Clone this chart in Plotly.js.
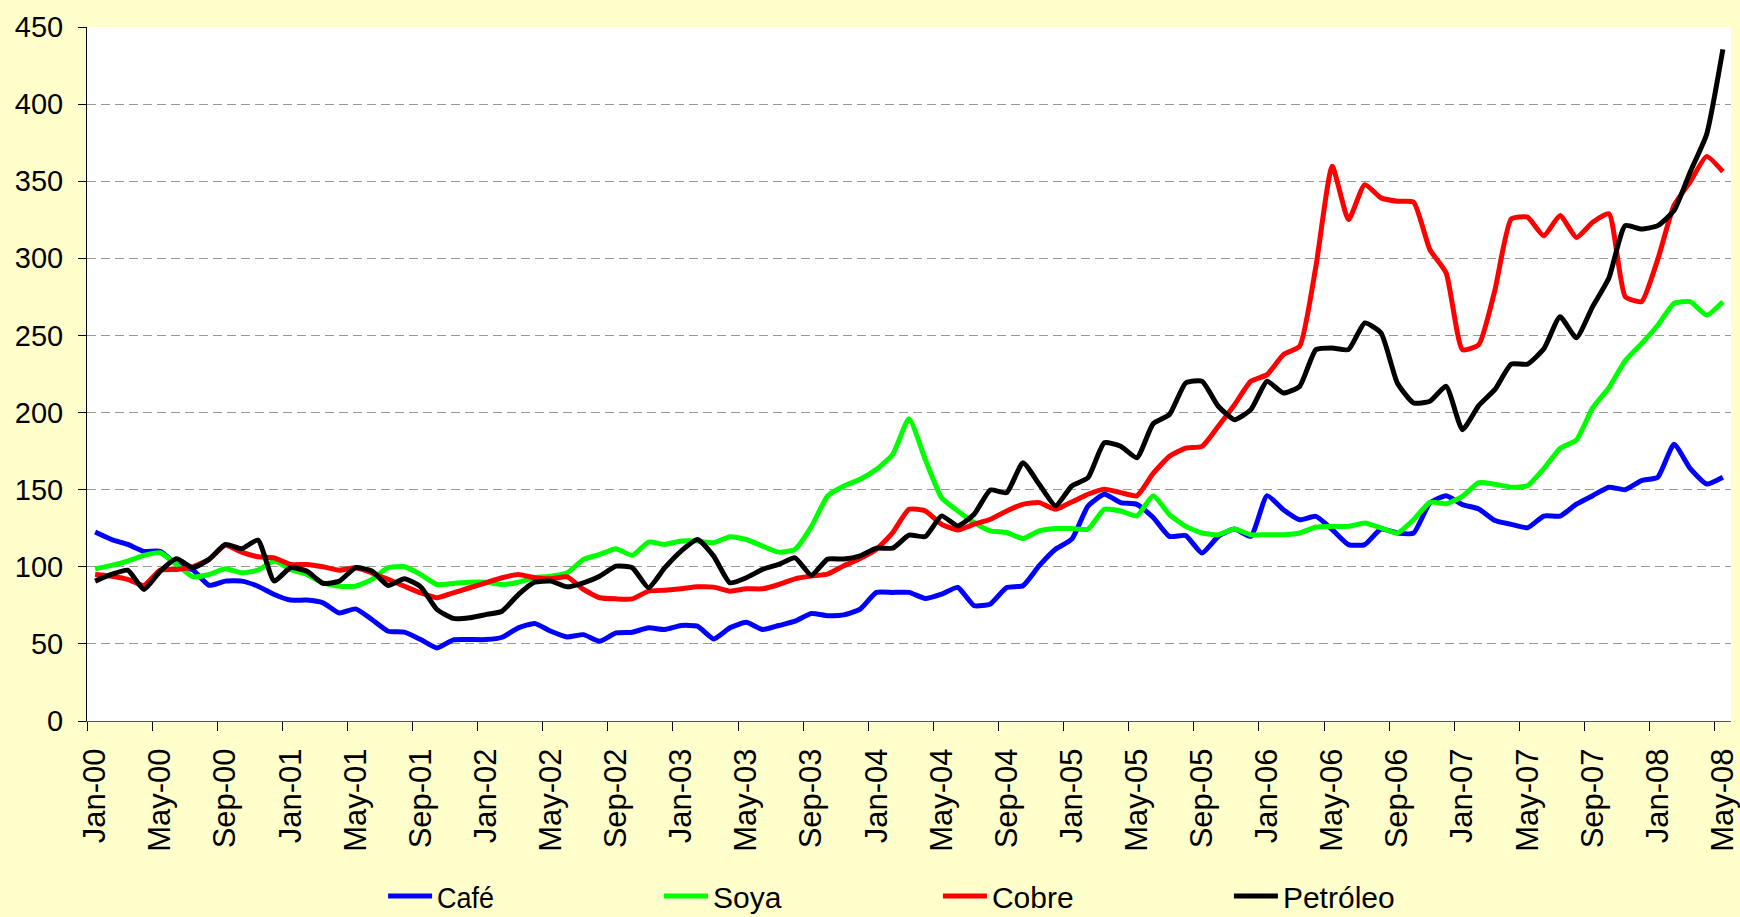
<!DOCTYPE html>
<html>
<head>
<meta charset="utf-8">
<script src="https://cdn.plot.ly/plotly-3.0.1.min.js"></script>
<style>
html,body{margin:0;padding:0;background:#FFFFCC;}
#chart{width:1740px;height:917px;}
</style>
</head>
<body>
<div id="chart"></div>
<script>
// Category labels: Jan-00 ... May-08
const monthNames = ['Jan','Feb','Mar','Apr','May','Jun','Jul','Aug','Sep','Oct','Nov','Dec'];
const yearLabels = ['00','01','02','03','04','05','06','07','08'];
const lastLabel = 'May-08';
const months = [];
outer: for (const yy of yearLabels) {
  for (const mm of monthNames) {
    const lab = mm + '-' + yy;
    months.push(lab);
    if (lab === lastLabel) break outer;
  }
}

const seriesNames = ['Café', 'Soya', 'Cobre', 'Petróleo'];

const cafe = [
  122.5, 117.7, 114.5, 110, 110, 101.5, 98, 88, 90.7, 90.7,
  87.4, 82, 78.4, 78.4, 76.6, 70, 72.7, 65.8, 58.2, 57.6,
  52.8, 47.4, 52.6, 52.8, 52.8, 54.3, 60.4, 63.2, 58.2, 54.5,
  56, 51.7, 57.1, 57.6, 60.4, 59.3, 61.9, 61.5, 53.2, 60.4,
  64, 59.3, 61.9, 64.7, 69.7, 68.3, 68.8, 72.6, 83.4, 83.4,
  83.4, 79.5, 82.3, 86.6, 74.8, 75.9, 86.6, 87.7, 100.7, 111.4,
  117.9, 139.4, 147, 141.6, 140.5, 132, 119.7, 120.2, 108.9, 119.7,
  124.5, 119.7, 146.1, 137, 130.5, 132.7, 124.1, 114.4, 114.4, 124.5,
  121.9, 121.9, 141.4, 146.1, 140.3, 137.5, 130, 127.5, 125.3, 132.9,
  132.9, 140.6, 146.1, 151.6, 150, 155.9, 158.1, 179.4, 163.6, 153.7,
  158.1
];

const soya = [
  98.7, 100.9, 103.7, 107.4, 109.1, 101.5, 93.5, 95, 98.7, 96.1,
  97.8, 103.7, 98.3, 95, 89.6, 87.4, 87.4, 91.8, 99.4, 100,
  95, 88.5, 89.2, 90, 90, 88.5, 90, 92.9, 93.9, 96.1,
  104.8, 108, 111.7, 107.4, 116, 114.5, 116.7, 116.7, 115.6, 119.5,
  117.7, 113.4, 109.5, 111.3, 126, 145.9, 152.4, 156.7, 163.2, 172.9,
  196, 169.6, 144.8, 136.2, 128.7, 123.3, 122.2, 118.3, 123.3, 124.8,
  124.8, 124.4, 137.3, 136.2, 133, 146, 133.8, 126.2, 121.9, 120.8,
  124.5, 120.8, 120.8, 120.8, 121.9, 125.8, 126.2, 126.2, 128.4, 125.2,
  121.9, 130.5, 141.8, 140.9, 145.7, 154.5, 153.5, 151.6, 152.6, 163.6,
  176.7, 182.2, 203, 216.1, 233.6, 244.6, 256.6, 270.8, 271.9, 263.2,
  271.9
];

const cobre = [
  95, 93.9, 91.8, 87.9, 97.8, 98.3, 100, 104.8, 113.9, 109.5,
  106.5, 105.8, 101.5, 101.5, 100, 97.8, 99.4, 96.1, 91.8, 87.4,
  83.1, 79.9, 83.1, 86.4, 89.6, 92.9, 95, 92.9, 92.2, 93.5,
  85.3, 79.9, 79.2, 79.2, 84.2, 84.8, 85.7, 87, 86.8, 84.2,
  85.7, 85.7, 88.5, 92.2, 94, 95.3, 100.7, 105.4, 111.4, 122.2,
  137.3, 136.2, 127.6, 123.9, 127.6, 130.8, 136.2, 140.5, 141.6, 137.3,
  142, 147, 150.2, 148.1, 146, 160.5, 171.6, 177, 178.1, 191.1,
  205.1, 220.3, 224.6, 237.6, 243, 294.9, 359.7, 325.1, 347.8, 339.2,
  337, 336.4, 305.7, 290.5, 240.8, 244, 279.6, 325.6, 326.7, 314.6,
  327.8, 313.5, 323.4, 328.9, 275.2, 271.9, 299.3, 334.3, 349.7, 366.1,
  356.2
];

const petroleo = [
  90.7, 95, 97.8, 85.3, 97.2, 105.2, 99.4, 104.8, 114.5, 111.7,
  117.3, 90.7, 99.4, 97.2, 89.2, 90.7, 99.4, 97.2, 87.9, 92.2,
  87, 72.3, 66.5, 66.9, 69, 71.2, 82, 90, 90.7, 87,
  89.6, 93.9, 100.4, 99.4, 86.4, 99.4, 110.2, 117.7, 106.9, 89.6,
  92.9, 98.3, 101.5, 105.8, 94.5, 105, 105, 107.1, 112.1, 112.1,
  120.5, 119.6, 133, 126.5, 134, 149.8, 148.1, 167.5, 153.5, 139.5,
  152.4, 157.8, 180.4, 178.2, 170.7, 192.7, 198.7, 219.2, 220.3, 204.1,
  195.4, 201.9, 220.3, 212.7, 217, 240.8, 241.9, 240.8, 258.1, 251.6,
  219.2, 206.2, 207.3, 217, 188.9, 204.5, 215, 231.4, 231.4, 241.3,
  262.1, 248.5, 268.7, 287.3, 321.2, 319, 321.2, 331, 356.2, 380.3,
  435.5
];

const yTicks = [0, 50, 100, 150, 200, 250, 300, 350, 400, 450];

const seriesValues = [cafe, soya, cobre, petroleo];
const colors = ['#0000FF', '#00FF00', '#FF0000', '#000000'];
const legendIds = ['legend', 'legend2', 'legend3', 'legend4'];
const legendX = [0.1801, 0.3479, 0.5176, 0.6946];

const traces = seriesValues.map((vals, k) => ({
  type: 'scatter',
  mode: 'lines',
  name: seriesNames[k],
  legend: legendIds[k],
  x: months,
  y: vals,
  line: {color: colors[k], width: 5, shape: 'spline', smoothing: 0.5}
}));

const layout = {
  width: 1740,
  height: 917,
  paper_bgcolor: '#FFFFCC',
  plot_bgcolor: '#FFFFFF',
  margin: {l: 87, r: 9, t: 27, b: 196, pad: 0, autoexpand: false},
  font: {family: 'Arial, "Liberation Sans", sans-serif', color: '#000000'},
  showlegend: true,
  xaxis: {
    type: 'category',
    categoryorder: 'array',
    categoryarray: months,
    range: [-0.5, 100.5],
    tickmode: 'linear',
    tick0: 0,
    dtick: 4,
    tickson: 'boundaries',
    ticks: 'outside',
    ticklen: 9,
    tickwidth: 1,
    tickcolor: '#000000',
    tickangle: -90,
    ticklabelstandoff: 14,
    tickfont: {size: 31, color: '#000000'},
    showgrid: false,
    showline: true,
    linecolor: '#555555',
    linewidth: 1,
    zeroline: false,
    automargin: false,
    fixedrange: true
  },
  yaxis: {
    range: [0, 450],
    tickmode: 'array',
    tickvals: yTicks,
    ticktext: yTicks.map(String),
    ticks: 'outside',
    ticklen: 8,
    tickwidth: 1,
    tickcolor: '#000000',
    ticklabelstandoff: 9,
    tickfont: {size: 29, color: '#000000'},
    showgrid: true,
    gridcolor: '#999999',
    gridwidth: 1,
    griddash: '9px,5px',
    showline: true,
    linecolor: '#000000',
    linewidth: 1,
    zeroline: false,
    automargin: false,
    fixedrange: true
  }
};

legendIds.forEach((id, k) => {
  layout[id] = {
    orientation: 'h',
    x: legendX[k],
    xanchor: 'left',
    y: -0.2522,
    yanchor: 'middle',
    bgcolor: 'rgba(0,0,0,0)',
    borderwidth: 0,
    itemwidth: 44,
    font: {family: 'Arial, "Liberation Sans", sans-serif', size: 30, color: '#000000'}
  };
});

Plotly.newPlot('chart', traces, layout, {displayModeBar: false, staticPlot: true}).then(gd => {
  // Condensed look of the legend labels (as in the original chart)
  const s = 0.9;
  gd.querySelectorAll('.legendtext').forEach(t => {
    const x = parseFloat(t.getAttribute('x')) || 0;
    t.setAttribute('transform', 'translate(' + (x * (1 - s)) + ',0) scale(' + s + ',1)');
  });
});
</script>
</body>
</html>
